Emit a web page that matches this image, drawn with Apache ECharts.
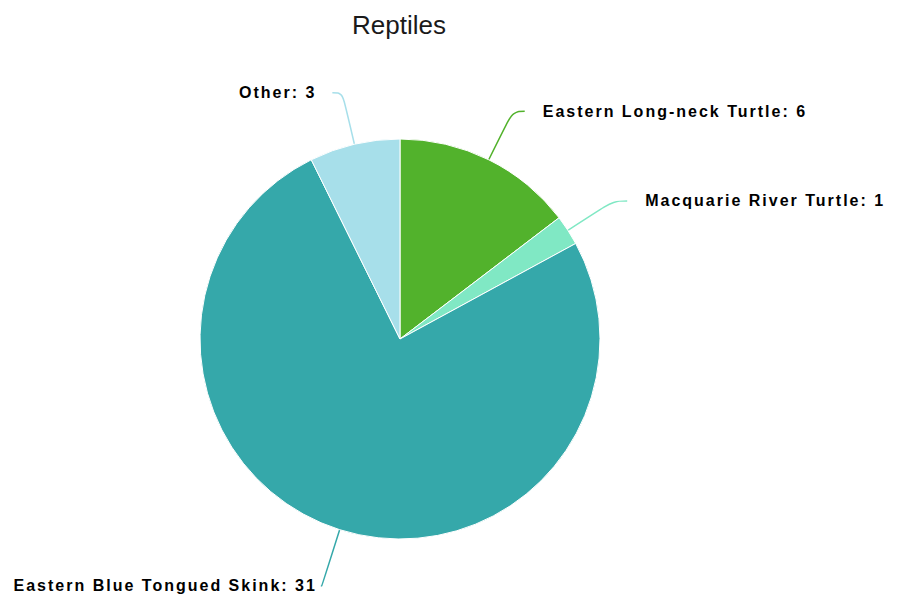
<!DOCTYPE html>
<html>
<head>
<meta charset="utf-8">
<title>Reptiles</title>
<script src="https://cdn.jsdelivr.net/npm/echarts@6/dist/echarts.min.js"></script>
<style>
  html, body { margin: 0; padding: 0; background: #ffffff; }
  #chart { width: 899px; height: 602px; }
  /* slice labels are set with a little tracking */
  #chart svg text[style*="bold"] { letter-spacing: 2px; }
</style>
</head>
<body>
<div id="chart"></div>
<script>
// Species counts
const categories = [
  'Eastern Long-neck Turtle',
  'Macquarie River Turtle',
  'Eastern Blue Tongued Skink',
  'Other'
];
const counts = [6, 1, 31, 3];
const sliceColors = ['#52b22c', '#80e8c4', '#35a8aa', '#a7dfea'];

// Per-slice connector tuning (radial length, horizontal length, gap to text)
const lineLen = [54, 54, 59, 53];
const lineLen2 = [12, 14, 1, 10];
const textGap = [18, 18, 4, 16];

const chart = echarts.init(document.getElementById('chart'), null, { renderer: 'svg' });

const seriesData = categories.map((name, i) => ({
  name: name,
  value: counts[i],
  itemStyle: { color: sliceColors[i] },
  label: { distanceToLabelLine: textGap[i] },
  labelLine: {
    length: lineLen[i],
    length2: lineLen2[i],
    lineStyle: { color: sliceColors[i], width: 1.5 }
  }
}));

chart.setOption({
  animation: false,
  backgroundColor: '#ffffff',
  title: {
    text: 'Reptiles',
    left: 352,
    top: 12,
    padding: 0,
    textStyle: {
      fontFamily: 'Liberation Sans, Arial, sans-serif',
      fontSize: 26,
      fontWeight: 'normal',
      color: '#1a1a1a'
    }
  },
  series: [{
    type: 'pie',
    center: [400, 339],
    radius: 200,
    startAngle: 90,
    clockwise: true,
    avoidLabelOverlap: false,
    itemStyle: { borderColor: '#ffffff', borderWidth: 1 },
    label: {
      show: true,
      position: 'outside',
      formatter: '{b}: {c}',
      fontFamily: 'Liberation Sans, Arial, sans-serif',
      fontSize: 16,
      fontWeight: 'bold',
      color: '#000000'
    },
    labelLine: { show: true, smooth: 0.4 },
    emphasis: { disabled: true },
    data: seriesData
  }]
});
</script>
</body>
</html>
